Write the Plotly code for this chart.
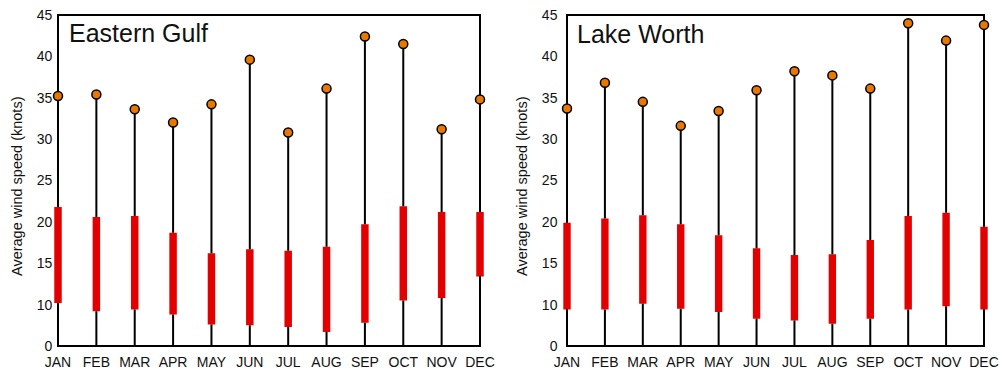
import plotly.graph_objects as go

months = ["JAN", "FEB", "MAR", "APR", "MAY", "JUN", "JUL", "AUG", "SEP", "OCT", "NOV", "DEC"]

# Eastern Gulf (knots)
eg_max = [35.2, 35.4, 33.6, 32.0, 34.2, 39.6, 30.8, 36.1, 42.4, 41.5, 31.2, 34.8]
eg_high = [21.8, 20.6, 20.7, 18.7, 16.2, 16.7, 16.5, 17.0, 19.7, 21.9, 21.2, 21.2]
eg_low = [10.2, 9.2, 9.4, 8.8, 7.6, 7.5, 7.3, 6.7, 7.8, 10.5, 10.8, 13.4]

# Lake Worth (knots)
lw_max = [33.7, 36.8, 34.5, 31.6, 33.4, 35.9, 38.2, 37.7, 36.1, 44.0, 41.9, 43.8]
lw_high = [19.9, 20.4, 20.8, 19.7, 18.4, 16.8, 16.0, 16.1, 17.8, 20.7, 21.1, 19.4]
lw_low = [9.4, 9.4, 10.1, 9.5, 9.1, 8.3, 8.1, 7.7, 8.3, 9.4, 9.8, 9.4]

y_ticks = [5, 10, 15, 20, 25, 30, 35, 40, 45]
y_ticktext = ["0", "10", "15", "20", "25", "30", "35", "40", "45"]
y_min, y_max = 5, 45

panels = [
    ("Eastern Gulf", eg_max, eg_high, eg_low, "x", "y"),
    ("Lake Worth", lw_max, lw_high, lw_low, "x2", "y2"),
]

FONT = "Liberation Sans, Arial, sans-serif"
RED = "#e30000"
ORANGE = "#e87800"

fig = go.Figure()
xs = list(range(len(months)))
for name, mx, hi, lo, xa, ya in panels:
    # black stems: below and above the red range bar
    sx, sy = [], []
    for i in xs:
        sx += [i, i, None, i, i, None]
        sy += [y_min, lo[i], None, hi[i], mx[i], None]
    fig.add_trace(go.Scatter(x=sx, y=sy, mode="lines", line=dict(color="black", width=2),
                             xaxis=xa, yaxis=ya, hoverinfo="skip", showlegend=False))
    fig.add_trace(go.Bar(x=xs, y=[h - l for h, l in zip(hi, lo)], base=lo, width=0.195,
                         marker=dict(color=RED, line=dict(width=0)),
                         xaxis=xa, yaxis=ya, showlegend=False))
    fig.add_trace(go.Scatter(x=xs, y=mx, mode="markers",
                             marker=dict(color=ORANGE, size=9, line=dict(color="black", width=1.5)),
                             cliponaxis=False, xaxis=xa, yaxis=ya, showlegend=False))

W, H = 1005, 371
def px_x(a, b):
    return [a / W, b / W]

ydom = [1 - 347.7 / H, 1 - 13.3 / H]
pad = 0.12
common_x = dict(range=[-pad, 11 + pad], tickmode="array", tickvals=xs, ticktext=months,
                showgrid=False, zeroline=False, showline=False, ticks="", automargin=False,
                ticklabelstandoff=4,
                tickfont=dict(family=FONT, size=14, color="#111"))
common_y = dict(range=[4.8, 45.2], tickmode="array", tickvals=y_ticks, ticktext=y_ticktext,
                showgrid=False, zeroline=False, showline=False, ticks="", automargin=False,
                tickfont=dict(family=FONT, size=14, color="#111"))

# left panel: x=0 at 58px, x=11 at 480px ; right: 567 -> 984
lu = (480 - 58) / 11
ru = (984 - 567) / 11
fig.update_layout(
    width=W, height=H, margin=dict(l=0, r=0, t=0, b=0, autoexpand=False),
    paper_bgcolor="white", plot_bgcolor="white",
    barmode="overlay",
    xaxis=dict(domain=px_x(58 - pad * lu, 480 + pad * lu), anchor="y", **common_x),
    yaxis=dict(domain=ydom, anchor="x", **common_y),
    xaxis2=dict(domain=px_x(567 - pad * ru, 984 + pad * ru), anchor="y2", **common_x),
    yaxis2=dict(domain=ydom, anchor="x2", ticklabelstandoff=4, **common_y),
    shapes=[
        dict(type="rect", xref="x", yref="y", x0=0, x1=11, y0=y_min, y1=y_max,
             line=dict(color="black", width=2), layer="below"),
        dict(type="rect", xref="x2", yref="y2", x0=0, x1=11, y0=y_min, y1=y_max,
             line=dict(color="black", width=2), layer="below"),
    ],
    annotations=[
        dict(text="Eastern Gulf", xref="paper", yref="paper", x=67 / W, y=1 - 33 / H,
             xanchor="left", yanchor="middle", showarrow=False,
             font=dict(family=FONT, size=25, color="#111")),
        dict(text="Lake Worth", xref="paper", yref="paper", x=575 / W, y=1 - 34 / H,
             xanchor="left", yanchor="middle", showarrow=False,
             font=dict(family=FONT, size=25, color="#111")),
        dict(text="Average wind speed (knots)", xref="paper", yref="paper", x=17 / W, y=1 - 187 / H,
             textangle=-90, xanchor="center", yanchor="middle", showarrow=False,
             font=dict(family=FONT, size=14.5, color="#111")),
        dict(text="Average wind speed (knots)", xref="paper", yref="paper", x=522 / W, y=1 - 187 / H,
             textangle=-90, xanchor="center", yanchor="middle", showarrow=False,
             font=dict(family=FONT, size=14.5, color="#111")),
    ],
)

fig.write_html("out.html")
